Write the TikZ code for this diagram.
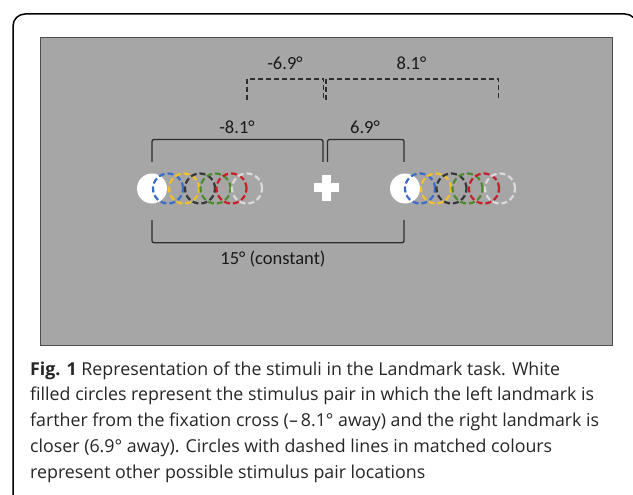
\documentclass[tikz,border=0pt]{standalone}
\usepackage{fontspec}
\newfontfamily\labfont{Carlito}
\newfontfamily\captfont{Open Sans}
\definecolor{bggray}{RGB}{166,166,166}
\definecolor{brkcol}{RGB}{45,45,45}
\definecolor{cblue}{RGB}{58,108,200}
\definecolor{cyellow}{RGB}{242,192,40}
\definecolor{cblack}{RGB}{55,55,55}
\definecolor{cgreen}{RGB}{78,138,46}
\definecolor{cred}{RGB}{200,30,40}
\definecolor{clight}{RGB}{218,218,218}
\tikzset{
  wcirc/.style={circle, minimum size=30pt, inner sep=0pt, fill=white},
  dcirc/.style={circle, minimum size=30pt, inner sep=0pt, line width=2.2pt, dash pattern=on 6pt off 3pt},
  brk/.style={draw=brkcol, line width=1.3pt, rounded corners=2pt},
  dbrk/.style={draw=brkcol, line width=1.2pt, dash pattern=on 5pt off 3pt},
  lbl/.style={font=\labfont\fontsize{18.5}{20}\selectfont, text=black!90, inner sep=0pt, anchor=base},
  capt/.style={font=\captfont\fontsize{17.8}{20}\selectfont, text=black!85, inner sep=0pt, anchor=base west},
  crossbar/.style={fill=white, inner sep=0pt}
}
\begin{document}
\begin{tikzpicture}[x=1pt,y=-1pt]
\useasboundingbox (0,0) rectangle (633,495);
\fill[white] (0,0) rectangle (633,495);
% outer frame
\draw[line width=1.5pt, rounded corners=12pt] (13,505) -- (13,14) -- (637,14) -- (637,505);
% gray field
\draw[fill=bggray, draw=black!70, line width=0.8pt] (40,37) rectangle (612,345);
% left stimulus group
\node[wcirc] (wL) at (152,188.5) {};
\node[dcirc, draw=cblue] (bL) at (168,188.5) {};
\node[dcirc, draw=cyellow] (yL) at (184,188.5) {};
\node[dcirc, draw=cblack] (kL) at (200,188.5) {};
\node[dcirc, draw=cgreen] (gL) at (215.5,188.5) {};
\node[dcirc, draw=cred] (rL) at (231.5,188.5) {};
\node[dcirc, draw=clight] (lL) at (247,188.5) {};
% right stimulus group
\node[wcirc] (wR) at (405,188.5) {};
\node[dcirc, draw=cblue] (bR) at (420,188.5) {};
\node[dcirc, draw=cyellow] (yR) at (436,188.5) {};
\node[dcirc, draw=cblack] (kR) at (451.5,188.5) {};
\node[dcirc, draw=cgreen] (gR) at (467.5,188.5) {};
\node[dcirc, draw=cred] (rR) at (484,188.5) {};
\node[dcirc, draw=clight] (lR) at (500,188.5) {};
% fixation cross
\node[crossbar, minimum width=25pt, minimum height=9pt] (crossH) at (326.5,188) {};
\node[crossbar, minimum width=9pt, minimum height=25pt] (crossV) at (326.5,188) {};
% bracket end points
\coordinate (s1a) at (152,162);
\coordinate (s1b) at (323,162);
\coordinate (s2a) at (327.5,162);
\coordinate (s2b) at (404,162);
\coordinate (d1a) at (247,100);
\coordinate (d1b) at (323.5,100);
\coordinate (d2a) at (326,100);
\coordinate (d2b) at (498.5,100);
\coordinate (ba) at (152,220);
\coordinate (bb) at (404,220);
% solid brackets
\draw[brk] (s1a) -- ++(0,-22.5) -| (s1b);
\draw[brk] (s2a) -- ++(0,-22.5) -| (s2b);
% dashed brackets
\draw[dbrk] (d1a) -- ++(0,-21) -| (d1b);
\draw[dbrk] (d2a) -- ++(0,-21) -| (d2b);
% bottom bracket
\draw[brk] (ba) -- ++(0,22.7) -| (bb);
% labels
\node[lbl] (t1) at (285,70) {-6.9°};
\node[lbl] (t2) at (411.5,70) {8.1°};
\node[lbl] (t3) at (237,133.3) {-8.1°};
\node[lbl] (t4) at (365,133.3) {6.9°};
\node[lbl] (t5) at (273,265) {15° (constant)};
% caption
\node[capt] (c1) at (30,375) {\textbf{Fig. 1} Representation of the stimuli in the Landmark task. White};
\node[capt] (c2) at (30,400.8) {filled circles represent the stimulus pair in which the left landmark is};
\node[capt] (c3) at (30,426.6) {farther from the fixation cross (–\,8.1° away) and the right landmark is};
\node[capt] (c4) at (30,452.4) {closer (6.9° away). Circles with dashed lines in matched colours};
\node[capt] (c5) at (30,478.2) {represent other possible stimulus pair locations};
\end{tikzpicture}
\end{document}
